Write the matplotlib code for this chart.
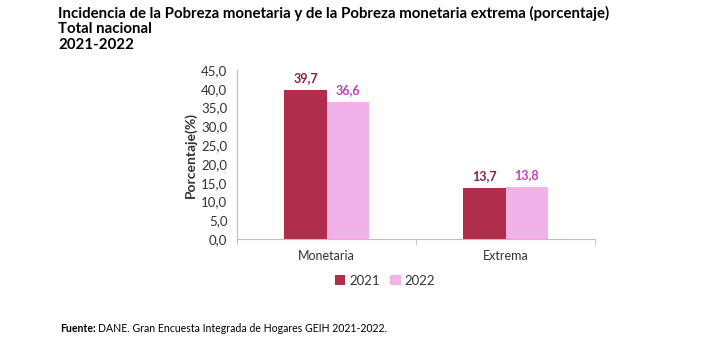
import matplotlib.pyplot as plt
import numpy as np

categorias = ['Monetaria', 'Extrema']
anios = ['2021', '2022']
valores_2021 = [39.7, 13.7]
valores_2022 = [36.6, 13.8]
yticks = np.arange(0, 46, 5)

col_2021 = '#B02E4C'
col_2022 = '#F2B1E8'
txt_2021 = '#8E1D3E'
txt_2022 = '#C13FBF'

plt.rcParams['font.family'] = ['Lato', 'DejaVu Sans']

fig = plt.figure(figsize=(7.2, 3.51), dpi=100)
ax = fig.add_axes([237/720, 1-239/351, 358/720, 169/351])

x = np.arange(len(categorias))
w = 0.235
b1 = ax.bar(x - w/2, valores_2021, w, color=col_2021, label=anios[0])
b2 = ax.bar(x + w/2, valores_2022, w, color=col_2022, label=anios[1])

for rect, v in zip(b1, valores_2021):
    ax.text(rect.get_x() + rect.get_width()/2, v + 1.5, f'{v:.1f}'.replace('.', ','),
            ha='center', va='bottom', fontsize=9, fontweight='bold', color=txt_2021)
for rect, v in zip(b2, valores_2022):
    ax.text(rect.get_x() + rect.get_width()/2, v + 1.5, f'{v:.1f}'.replace('.', ','),
            ha='center', va='bottom', fontsize=9, fontweight='bold', color=txt_2022)

ax.set_xlim(-0.5, 1.5)
ax.set_ylim(0, 45)
ax.set_yticks(yticks)
ax.set_yticklabels([f'{t:.1f}'.replace('.', ',') for t in yticks], fontsize=9.5, color='#333333')
ax.set_xticks(x)
ax.set_xticklabels(categorias, fontsize=9, color='#333333')
ax.set_xticks([-0.5, 0.5, 1.5], minor=True)
ax.tick_params(axis='x', which='major', length=0, pad=8)
ax.tick_params(axis='x', which='minor', length=4, color='#BFBFBF', direction='out')
ax.tick_params(axis='y', length=0, pad=7)
for s in ['top', 'right']:
    ax.spines[s].set_visible(False)
ax.spines['left'].set_color('#BFBFBF')
ax.spines['bottom'].set_color('#BFBFBF')
ax.set_ylabel('Porcentaje(%)', fontsize=10, fontweight='bold', color='#333333', labelpad=3)

fig.legend(handles=[b1, b2], labels=anios, loc='center', bbox_to_anchor=(385/720, 1-281/351),
           ncol=2, frameon=False, fontsize=9.5, handlelength=0.8, handleheight=0.8,
           handletextpad=0.3, columnspacing=0.8, labelcolor='#333333')

for i, linea in enumerate(['Incidencia de la Pobreza monetaria y de la Pobreza monetaria extrema (porcentaje)',
                           'Total nacional', '2021-2022']):
    fig.text(58/720, 1-(13 + 16*i)/351, linea, fontsize=10.8, fontweight='bold', va='center', ha='left')

t = fig.text(60/720, 1-328/351, 'Fuente:', fontsize=7.6, fontweight='bold', va='center', ha='left')
fig.canvas.draw()
bb = t.get_window_extent()
fig.text(bb.x1/720 + 2/720, 1-328/351, 'DANE. Gran Encuesta Integrada de Hogares GEIH 2021-2022.',
         fontsize=7.6, va='center', ha='left')

fig.savefig('out.png', dpi=100)
